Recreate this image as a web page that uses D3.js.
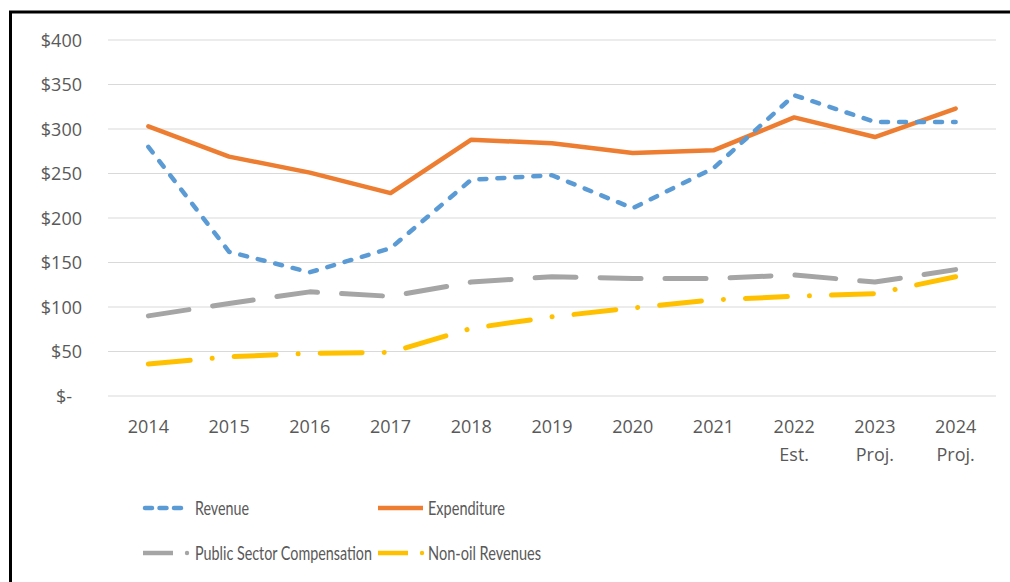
<!DOCTYPE html>
<html>
<head>
<meta charset="utf-8">
<script src="https://cdn.jsdelivr.net/npm/d3@7"></script>
<style>
  body { margin: 0; background: #fff; }
  text { font-family: "Open Sans", sans-serif; fill: #595959; }
</style>
</head>
<body>
<div id="chart"></div>
<script>
// Chart data (billions USD)
const years = ["2014", "2015", "2016", "2017", "2018", "2019", "2020", "2021", "2022 Est.", "2023 Proj.", "2024 Proj."];
const revenue = [280, 162, 139, 166, 243, 248, 211, 256, 338, 308, 308];
const expenditure = [303, 269, 251, 228, 288, 284, 273, 276, 313, 291, 323];
const publicComp = [90, 104, 117, 112, 128, 134, 132, 132, 136, 128, 142];
const nonOil = [36, 44, 48, 49, 76, 89, 99, 108, 112, 115, 134];
const yTicks = [0, 50, 100, 150, 200, 250, 300, 350, 400];

const series = [
    { name: "Revenue", values: revenue, color: "#5B9BD5", width: 4.5, dash: "7 11" },
    { name: "Expenditure", values: expenditure, color: "#ED7D31", width: 4.5, dash: null },
    { name: "Public Sector Compensation", values: publicComp, color: "#A5A5A5", width: 5, dash: "41 24" },
    { name: "Non-oil Revenues", values: nonOil, color: "#FFC000", width: 5, dash: "42 22 0.1 22" }
];

const W = 1010, H = 582;
const margin = { left: 108, right: 14, top: 40, bottom: 186 };

const svg = d3.select("#chart").append("svg")
    .attr("width", W)
    .attr("height", H);

// Outer frame (right and bottom edges fall outside the picture)
svg.append("rect")
    .attr("x", 10.5).attr("y", 12)
    .attr("width", 1010).attr("height", 600)
    .attr("fill", "none")
    .attr("stroke", "#000")
    .attr("stroke-width", 3);

const x = d3.scaleBand()
    .domain(years)
    .range([margin.left, W - margin.right]);

const y = d3.scaleLinear()
    .domain([0, 400])
    .range([H - margin.bottom, margin.top]);

// Gridlines
svg.append("g")
    .selectAll("line")
    .data(yTicks)
    .join("line")
    .attr("x1", margin.left)
    .attr("x2", W - margin.right)
    .attr("y1", d => y(d))
    .attr("y2", d => y(d))
    .attr("stroke", "#D9D9D9")
    .attr("stroke-width", 1.2);

// Y axis labels
const yAxis = svg.append("g")
    .attr("transform", `translate(${margin.left - 26},0)`)
    .call(d3.axisLeft(y).tickValues(yTicks).tickSize(0).tickPadding(0)
        .tickFormat(d => d === 0 ? "$-" : "$" + d));
yAxis.select(".domain").remove();
yAxis.selectAll("text")
    .style("font-size", "18px")
    .style("font-family", "'Open Sans', sans-serif")
    .attr("fill", "#595959")
    .attr("dy", "0.35em")
    .attr("x", d => d === 0 ? -10 : 0);

// X axis labels (two lines for estimates/projections)
const xLabels = svg.append("g")
    .selectAll("text")
    .data(years)
    .join("text")
    .attr("x", d => x(d) + x.bandwidth() / 2)
    .attr("y", 433)
    .attr("text-anchor", "middle")
    .style("font-size", "18px");
xLabels.each(function(d) {
    const parts = d.split(" ");
    const t = d3.select(this);
    parts.forEach((p, i) => {
        t.append("tspan")
            .attr("x", x(d) + x.bandwidth() / 2)
            .attr("dy", i === 0 ? 0 : 28)
            .text(p);
    });
});

// Lines
const line = vals => d3.line()
    .x((d, i) => x(years[i]) + x.bandwidth() / 2)
    .y(d => y(d))(vals);

// Draw in reverse so revenue sits on top like the original
[...series].reverse().forEach(s => {
    svg.append("path")
        .attr("d", line(s.values))
        .attr("fill", "none")
        .attr("stroke", s.color)
        .attr("stroke-width", s.width)
        .attr("stroke-linecap", "round")
        .attr("stroke-linejoin", "round")
        .attr("stroke-dasharray", s.dash);
});

// Legend
const legendPos = [
    { x: 143, y: 508 }, { x: 378, y: 508 },
    { x: 143, y: 553 }, { x: 378, y: 553 }
];
const legendText = [195, 428, 195, 428];
const legendWidth = [54, 77, 177, 113]; // narrow label widths of the original font

series.forEach((s, i) => {
    const p = legendPos[i];
    const g = svg.append("g");
    if (s.name === "Revenue") {
        g.append("line")
            .attr("x1", p.x + 2).attr("x2", p.x + 42)
            .attr("y1", p.y).attr("y2", p.y)
            .attr("stroke", s.color).attr("stroke-width", 4.5)
            .attr("stroke-linecap", "round")
            .attr("stroke-dasharray", "7 7.5");
    } else if (s.name === "Expenditure") {
        g.append("line")
            .attr("x1", p.x).attr("x2", p.x + 45)
            .attr("y1", p.y).attr("y2", p.y)
            .attr("stroke", s.color).attr("stroke-width", 4.5);
    } else {
        g.append("line")
            .attr("x1", p.x).attr("x2", p.x + 30)
            .attr("y1", p.y).attr("y2", p.y)
            .attr("stroke", s.color).attr("stroke-width", 4.5);
        g.append("circle")
            .attr("cx", p.x + 44).attr("cy", p.y)
            .attr("r", 2.2)
            .attr("fill", s.color);
    }
    svg.append("text")
        .attr("x", legendText[i])
        .attr("y", p.y)
        .attr("dy", "0.35em")
        .attr("textLength", legendWidth[i])
        .attr("lengthAdjust", "spacingAndGlyphs")
        .style("font-family", "Lato, sans-serif")
        .style("font-size", "19px")
        .text(s.name);
});
</script>
</body>
</html>
